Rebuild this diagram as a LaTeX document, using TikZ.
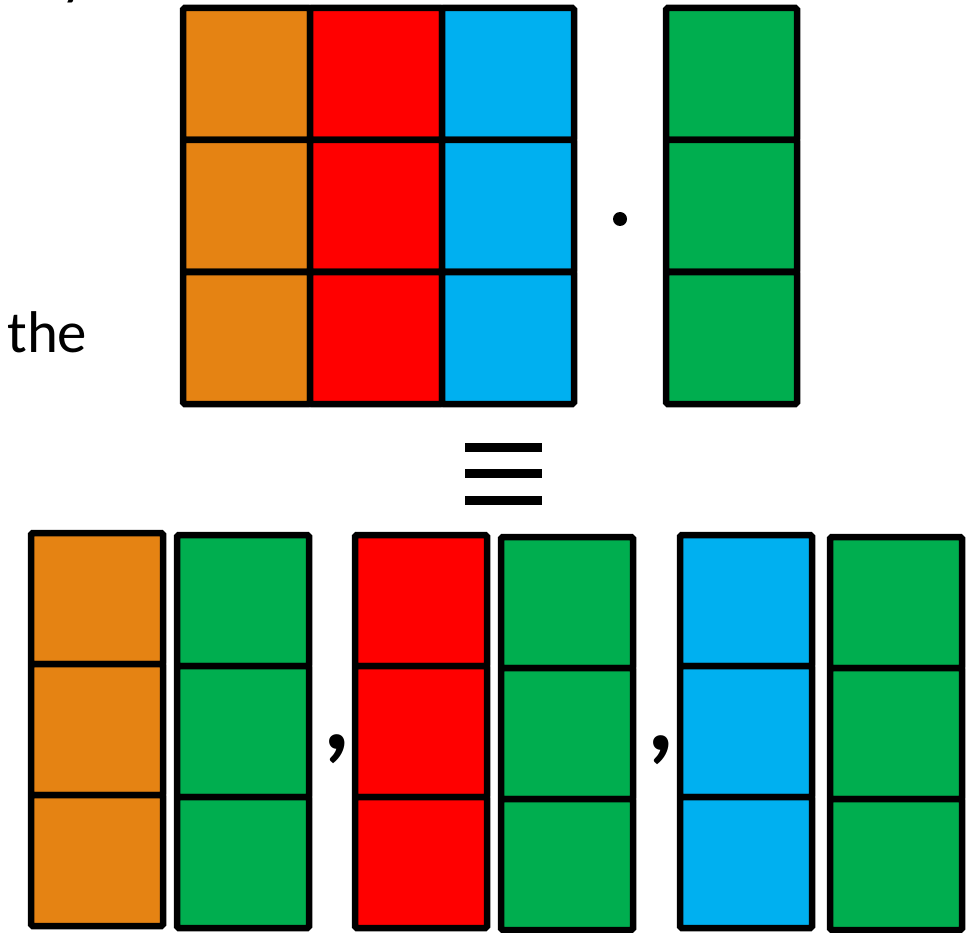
\documentclass[tikz,border=0pt]{standalone}
\usepackage{fontspec}
\setmainfont{Carlito}

\definecolor{cellorange}{HTML}{E58313}
\definecolor{cellred}{HTML}{FF0000}
\definecolor{cellblue}{HTML}{00B0F0}
\definecolor{cellgreen}{HTML}{00AE4F}

\tikzset{
    cell/.style={draw=black, line width=3.7pt, rounded corners=1pt},
    bar/.style={fill=black, draw=none},
}

\begin{document}
\begin{tikzpicture}[x=0.02cm, y=-0.02cm]
    \useasboundingbox (0,0) rectangle (969,932);

    % the matrix on top: one column per colour
    \foreach \xa/\xb/\c in {183/310/cellorange, 310/442/cellred, 442/574/cellblue}{
        \foreach \r in {0,1,2}
            \draw[cell, fill=\c] (\xa,8+132*\r) rectangle (\xb,140+132*\r);
    }

    % the vector it is multiplied with
    \foreach \r in {0,1,2}
        \draw[cell, fill=cellgreen] (666,8+132*\r) rectangle (797,140+132*\r);

    \fill (620,219) circle (7);
    \node[anchor=base west, font=\fontsize{33.5}{40}\selectfont, inner sep=0pt] (the) at (7,352) {the};
    \node[anchor=base west, font=\fontsize{33.5}{40}\selectfont, inner sep=0pt] (ytail) at (61,-6) {y};

    % equivalence sign
    \foreach \yy in {443,469,496}
        \fill[bar] (465,\yy) rectangle (542,\yy+8.5);

    % the column pairs below
    \foreach \xa/\ya/\c in {31/533/cellorange, 177/535/cellgreen, 355/535/cellred,
                            501/537/cellgreen, 680/535/cellblue, 830/537/cellgreen}{
        \foreach \r in {0,1,2}
            \draw[cell, fill=\c] (\xa,\ya+131*\r) rectangle (\xa+132,\ya+131+131*\r);
    }

    \node[anchor=base, font=\fontsize{60}{70}\selectfont\bfseries, inner sep=0pt] (comma1) at (337,749) {,};
    \node[anchor=base, font=\fontsize{60}{70}\selectfont\bfseries, inner sep=0pt] (comma2) at (661,750) {,};
\end{tikzpicture}
\end{document}
